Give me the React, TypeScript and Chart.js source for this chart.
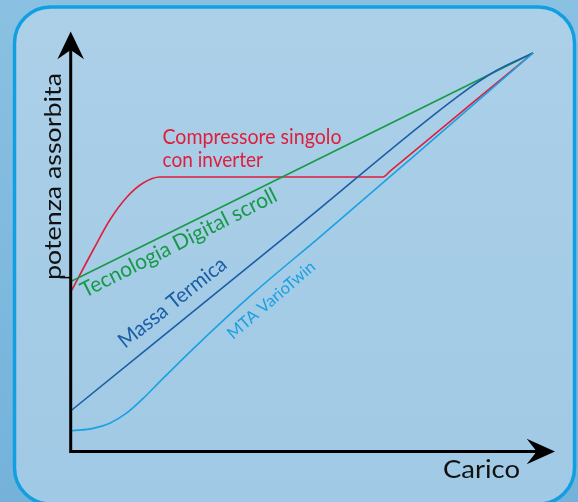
import React, { useEffect, useRef } from "react";
import { Chart, registerables } from "chart.js";

Chart.register(...registerables);

// ---- data (x = Carico %, y = potenza assorbita %) ----
const compressoreX = [0.4, 5, 8.6, 12.3, 15.8, 19.4, 67.6, 69.2, 86, 100];
const compressoreY = [40.5, 50.5, 58, 63.75, 67.25, 68.75, 68.75, 70.3, 86.4, 99.75];

const digitalX = [0.4, 100];
const digitalY = [42.75, 99.75];

const massaX = [0.4, 50, 84, 92, 100];
const massaY = [10.5, 57.1, 89.1, 95.3, 99.75];

const mtaX = [0.4, 5, 8.6, 12.2, 15.8, 19.4, 26.6, 39.6, 54, 74.1, 100];
const mtaY = [5.3, 5.9, 7.2, 9.7, 13.4, 17.6, 25.8, 39.7, 53.8, 73.8, 99.75];

const yTickValues = [43.6];

const labelCompressore = ["Compressore singolo", "con inverter"];
const labelDigital = "Tecnologia Digital scroll";
const labelMassa = "Massa Termica";
const labelMta = "MTA VarioTwin";
const axisTitleY = "potenza assorbita";
const axisTitleX = "Carico";

const RED = "#e11d3c";
const GREEN = "#179a48";
const BLUE = "#1b5ea6";
const LIGHT = "#1aa1e2";
const FONT = "Lato, 'Open Sans', sans-serif";

function pts(xs: number[], ys: number[]) {
  return xs.map((x, i) => ({ x, y: ys[i] }));
}

// draw text at given font size, squeezed horizontally to a target width
function drawText(
  ctx: CanvasRenderingContext2D,
  text: string,
  x: number,
  y: number,
  angleDeg: number,
  size: number,
  target: number,
  color: string
) {
  ctx.save();
  ctx.font = `${size}px ${FONT}`;
  const w = ctx.measureText(text).width;
  ctx.translate(x, y);
  ctx.rotate((angleDeg * Math.PI) / 180);
  ctx.scale(target / w, 1);
  ctx.fillStyle = color;
  ctx.textAlign = "left";
  ctx.textBaseline = "alphabetic";
  ctx.fillText(text, 0, 0);
  ctx.restore();
}

function roundRect(ctx: CanvasRenderingContext2D, x: number, y: number, w: number, h: number, r: number) {
  ctx.beginPath();
  ctx.moveTo(x + r, y);
  ctx.lineTo(x + w - r, y);
  ctx.arcTo(x + w, y, x + w, y + r, r);
  ctx.lineTo(x + w, y + h - r);
  ctx.arcTo(x + w, y + h, x + w - r, y + h, r);
  ctx.lineTo(x + r, y + h);
  ctx.arcTo(x, y + h, x, y + h - r, r);
  ctx.lineTo(x, y + r);
  ctx.arcTo(x, y, x + r, y, r);
  ctx.closePath();
}

const bgPlugin = {
  id: "bg",
  beforeDraw(chart: any) {
    const ctx: CanvasRenderingContext2D = chart.ctx;
    const W = chart.width;
    const H = chart.height;
    ctx.save();
    const g = ctx.createLinearGradient(0, 0, 0, H);
    g.addColorStop(0, "#8ac1e2");
    g.addColorStop(1, "#74b2da");
    ctx.fillStyle = g;
    ctx.fillRect(0, 0, W, H);
    roundRect(ctx, 14.5, 7, 560, 497, 36);
    const g2 = ctx.createLinearGradient(0, 0, 0, H);
    g2.addColorStop(0, "#acd0e8");
    g2.addColorStop(1, "#a0c9e5");
    ctx.fillStyle = g2;
    ctx.fill();
    ctx.lineWidth = 3.5;
    ctx.strokeStyle = "#129fe2";
    ctx.stroke();
    ctx.restore();
  },
};

const overlayPlugin = {
  id: "overlay",
  afterDatasetsDraw(chart: any) {
    const ctx: CanvasRenderingContext2D = chart.ctx;
    const a = chart.chartArea;
    const ys = chart.scales.y;
    const ax = a.left + 0.7;
    const ay = a.bottom - 0.5;
    ctx.save();
    ctx.strokeStyle = "#000";
    ctx.fillStyle = "#000";
    ctx.lineWidth = 3;
    ctx.beginPath();
    ctx.moveTo(ax, ay + 1.5);
    ctx.lineTo(ax, a.top - 4);
    ctx.moveTo(ax - 1.5, ay);
    ctx.lineTo(a.right + 6, ay);
    ctx.stroke();
    // y arrow
    ctx.beginPath();
    ctx.moveTo(ax, a.top - 20.5);
    ctx.lineTo(ax + 13.3, a.top + 7.3);
    ctx.lineTo(ax, a.top - 2);
    ctx.lineTo(ax - 13.3, a.top + 7.3);
    ctx.closePath();
    ctx.fill();
    // x arrow
    ctx.beginPath();
    ctx.moveTo(a.right + 22, ay);
    ctx.lineTo(a.right - 6.3, ay - 12.8);
    ctx.lineTo(a.right + 3.7, ay);
    ctx.lineTo(a.right - 6.3, ay + 12.8);
    ctx.closePath();
    ctx.fill();
    // small tick
    ctx.lineWidth = 1.5;
    yTickValues.forEach((v) => {
      const py = ys.getPixelForValue(v);
      ctx.beginPath();
      ctx.moveTo(a.left - 10, py);
      ctx.lineTo(a.left, py);
      ctx.stroke();
    });
    ctx.restore();

    // labels
    drawText(ctx, labelCompressore[0], 162.5, 144, 0, 21.5, 179, RED);
    drawText(ctx, labelCompressore[1], 162.5, 167, 0, 21.5, 100.5, RED);
    drawText(ctx, labelDigital, 85, 298, -26.8, 21.5, 217, GREEN);
    drawText(ctx, labelMassa, 125, 349, -38.5, 21, 132, BLUE);
    drawText(ctx, labelMta, 233, 340, -40.6, 16.5, 110, LIGHT);
    drawText(ctx, axisTitleY, 61, 280, -90, 23.5, 207, "#111");
    drawText(ctx, axisTitleX, 443, 478, 0, 25, 77, "#111");
  },
};

export default function App() {
  const ref = useRef<HTMLCanvasElement>(null);
  useEffect(() => {
    document.body.style.margin = "0";
    const canvas = ref.current!;
    const chart = new Chart(canvas, {
      type: "line",
      data: {
        datasets: [
          {
            label: labelMta,
            data: pts(mtaX, mtaY),
            borderColor: LIGHT,
            borderWidth: 1.6,
            cubicInterpolationMode: "monotone",
          },
          {
            label: labelMassa,
            data: pts(massaX, massaY),
            borderColor: BLUE,
            borderWidth: 1.6,
            cubicInterpolationMode: "monotone",
          },
          {
            label: labelDigital,
            data: pts(digitalX, digitalY),
            borderColor: GREEN,
            borderWidth: 1.6,
            tension: 0,
          },
          {
            label: labelCompressore.join(" "),
            data: pts(compressoreX, compressoreY),
            borderColor: RED,
            borderWidth: 1.6,
            cubicInterpolationMode: "monotone",
          },
        ],
      } as any,
      options: {
        responsive: false,
        animation: false,
        devicePixelRatio: 1,
        layout: { padding: { left: 70, top: 52, right: 45, bottom: 50 } },
        scales: {
          x: { type: "linear", min: 0, max: 100, display: false },
          y: { type: "linear", min: 0, max: 100, display: false },
        },
        elements: { point: { radius: 0 } },
        plugins: { legend: { display: false }, tooltip: { enabled: false } },
        datasets: { line: { clip: false } as any },
      } as any,
      plugins: [bgPlugin, overlayPlugin],
    });
    return () => chart.destroy();
  }, []);
  return (
    <div style={{ position: "fixed", left: 0, top: 0, width: 578, height: 502 }}>
      <canvas ref={ref} width={578} height={502} style={{ display: "block" }} />
    </div>
  );
}
